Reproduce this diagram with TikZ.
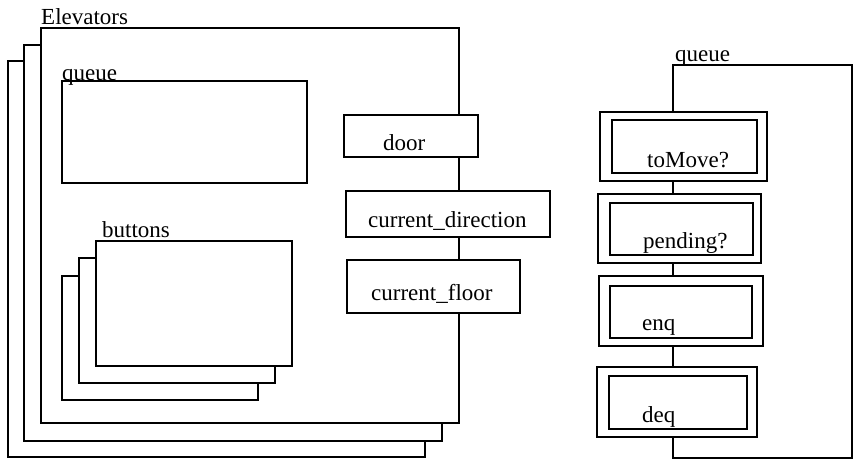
\documentclass[tikz,border=0pt]{standalone}
\usepackage{fontspec}
\setmainfont{Liberation Serif}
\begin{document}
\begin{tikzpicture}[x=1pt,y=-1pt,
  box/.style={draw, line width=1.7pt, fill=white, inner sep=0pt, outer sep=0pt, anchor=north west},
  lbl/.style={anchor=base west, inner sep=0pt, font=\fontsize{23}{27}\selectfont}]
\useasboundingbox (0,0) rectangle (853,459);
% Elevators stack
\node[box, minimum width=417pt, minimum height=396pt] (eback) at (8,61) {};
\node[box, minimum width=418pt, minimum height=396pt] (emid) at (24,45) {};
\node[box, minimum width=418pt, minimum height=395pt] (efront) at (41,28) {};
\node[lbl] (elabel) at (41,24) {Elevators};
% queue inside
\node[box, minimum width=245pt, minimum height=102pt] (lqueue) at (62,81) {};
\node[lbl] (lqlabel) at (62,80) {queue};
% buttons stack
\node[box, minimum width=196pt, minimum height=124pt] (bback) at (62,276) {};
\node[box, minimum width=196pt, minimum height=125pt] (bmid) at (79,258) {};
\node[box, minimum width=196pt, minimum height=125pt] (bfront) at (96,241) {};
\node[lbl] (blabel) at (102,237) {buttons};
% ports
\node[box, minimum width=134pt, minimum height=42pt] (door) at (344,115) {};
\node[lbl] at (383,150) {door};
\node[box, minimum width=204pt, minimum height=46pt] (cdir) at (346,191) {};
\node[lbl] at (368,227) {current\_direction};
\node[box, minimum width=173pt, minimum height=53pt] (cfloor) at (347,260) {};
\node[lbl] at (371,300) {current\_floor};
% right queue frame
\node[box, minimum width=179pt, minimum height=393pt] (rqueue) at (673,65) {};
\node[lbl] (rqlabel) at (675,61) {queue};
% operations
\node[box, minimum width=167pt, minimum height=69pt] (tmo) at (600,112) {};
\node[box, minimum width=145pt, minimum height=53pt] (tmi) at (612,120) {};
\node[lbl] at (647,167) {toMove?};
\node[box, minimum width=163pt, minimum height=69pt] (pdo) at (598,194) {};
\node[box, minimum width=143pt, minimum height=52pt] (pdi) at (610,203) {};
\node[lbl] at (643,248) {pending?};
\node[box, minimum width=164pt, minimum height=70pt] (eqo) at (599,276) {};
\node[box, minimum width=142pt, minimum height=52pt] (eqi) at (610,286) {};
\node[lbl] at (642,330) {enq};
\node[box, minimum width=160pt, minimum height=70pt] (dqo) at (597,367) {};
\node[box, minimum width=138pt, minimum height=53pt] (dqi) at (609,376) {};
\node[lbl] at (642,422) {deq};
\end{tikzpicture}
\end{document}
